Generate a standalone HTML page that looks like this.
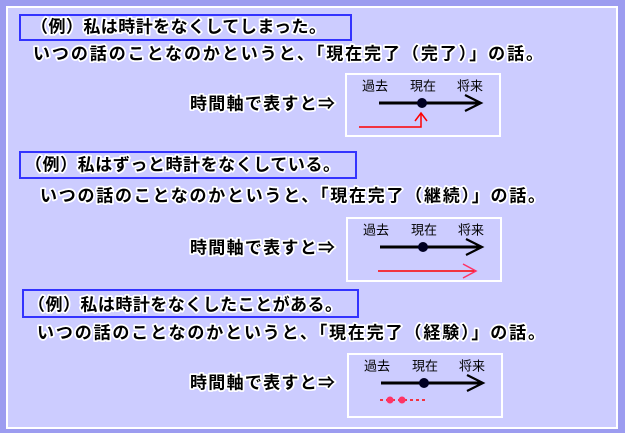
<!DOCTYPE html>
<html><head><meta charset="utf-8"><style>
html,body{margin:0;padding:0;background:#9c9cf0;}
svg{display:block}
.t{font-family:"Liberation Sans","Noto Sans CJK JP",sans-serif;font-weight:bold;font-size:17px;fill:#000;stroke:#fff;stroke-width:3.5px;paint-order:stroke;stroke-linejoin:round;dominant-baseline:central}
.s{font-family:"Liberation Sans","Noto Sans CJK JP",sans-serif;font-size:13px;fill:#000;dominant-baseline:central}
</style></head><body>
<svg width="625" height="433" viewBox="0 0 625 433">
<rect x="0" y="0" width="625" height="433" fill="#9c9cf0"/>
<rect x="7" y="7" width="610" height="421" fill="#ccccff" stroke="#fff" stroke-width="2"/>
<!-- section 1 -->
<rect x="20" y="15" width="331" height="25" fill="none" stroke="#3333ff" stroke-width="2"/>
<text class="t" x="31" y="27" textLength="295">（例）私は時計をなくしてしまった。</text>
<text class="t" x="33" y="54" textLength="510">いつの話のことなのかというと、「現在完了（完了）」の話。</text>
<text class="t" x="190" y="104" textLength="145">時間軸で表すと⇒</text>
<rect x="346" y="74" width="154" height="62" fill="none" stroke="#fff" stroke-width="2"/>
<text class="s" x="362" y="86">過去</text><text class="s" x="410" y="86">現在</text><text class="s" x="457" y="86">将来</text>
<line x1="379" y1="103" x2="480" y2="103" stroke="#000" stroke-width="3"/>
<polyline points="465,95 481,103 465,111" fill="none" stroke="#000" stroke-width="2.2"/>
<circle cx="422" cy="103" r="5" fill="#000022"/>
<polyline points="359,127 421,127 421,113" fill="none" stroke="#ff0000" stroke-width="1.5"/>
<polyline points="415,121 421,113 427,121" fill="none" stroke="#ff0000" stroke-width="1.5"/>
<!-- section 2 -->
<rect x="20" y="152" width="336" height="26" fill="none" stroke="#3333ff" stroke-width="2"/>
<text class="t" x="25" y="165" textLength="315">（例）私はずっと時計をなくしている。</text>
<text class="t" x="40" y="196" textLength="505">いつの話のことなのかというと、「現在完了（継続）」の話。</text>
<text class="t" x="190" y="248" textLength="145">時間軸で表すと⇒</text>
<rect x="347" y="218" width="154" height="63" fill="none" stroke="#fff" stroke-width="2"/>
<text class="s" x="363" y="230">過去</text><text class="s" x="411" y="230">現在</text><text class="s" x="458" y="230">将来</text>
<line x1="380" y1="247" x2="481" y2="247" stroke="#000" stroke-width="3"/>
<polyline points="466,239 482,247 466,255" fill="none" stroke="#000" stroke-width="2.2"/>
<circle cx="423" cy="247" r="5" fill="#000022"/>
<line x1="378" y1="271" x2="476" y2="271" stroke="#ff0000" stroke-width="1.5"/>
<polyline points="463,264 476,271 463,278" fill="none" stroke="#ff3366" stroke-width="1.5"/>
<!-- section 3 -->
<rect x="23" y="290" width="335" height="27" fill="none" stroke="#3333ff" stroke-width="2"/>
<text class="t" x="28" y="305" textLength="314">（例）私は時計をなくしたことがある。</text>
<text class="t" x="37" y="333" textLength="508">いつの話のことなのかというと、「現在完了（経験）」の話。</text>
<text class="t" x="190" y="383" textLength="145">時間軸で表すと⇒</text>
<rect x="348" y="354" width="154" height="63" fill="none" stroke="#fff" stroke-width="2"/>
<text class="s" x="364" y="366">過去</text><text class="s" x="412" y="366">現在</text><text class="s" x="459" y="366">将来</text>
<line x1="381" y1="383" x2="482" y2="383" stroke="#000" stroke-width="3"/>
<polyline points="467,375 483,383 467,391" fill="none" stroke="#000" stroke-width="2.2"/>
<circle cx="424" cy="383" r="5" fill="#000022"/>
<line x1="380" y1="400" x2="427" y2="400" stroke="#ff0000" stroke-width="1.5" stroke-dasharray="3,3"/>
<circle cx="390" cy="400" r="3.5" fill="#ff3366"/>
<circle cx="402" cy="400" r="3.5" fill="#ff3366"/>
</svg>
</body></html>
